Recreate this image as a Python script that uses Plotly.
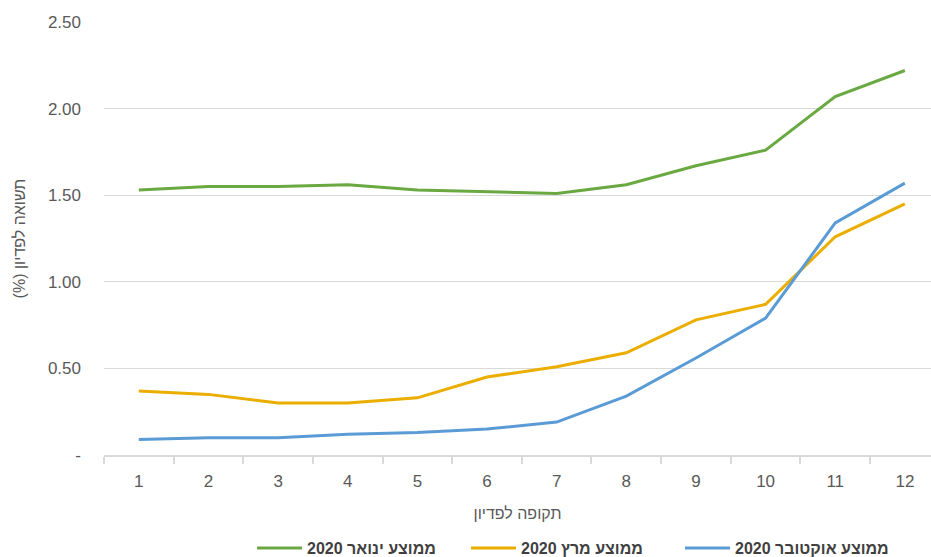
import plotly.graph_objects as go

# Redemption period (years) and yield-to-maturity averages, in percent
periods = ["1", "2", "3", "4", "5", "6", "7", "8", "9", "10", "11", "12"]
jan_2020 = [1.53, 1.55, 1.55, 1.56, 1.53, 1.52, 1.51, 1.56, 1.67, 1.76, 2.07, 2.22]
mar_2020 = [0.37, 0.35, 0.30, 0.30, 0.33, 0.45, 0.51, 0.59, 0.78, 0.87, 1.26, 1.45]
oct_2020 = [0.09, 0.10, 0.10, 0.12, 0.13, 0.15, 0.19, 0.34, 0.56, 0.79, 1.34, 1.57]

series_names = ["ממוצע ינואר 2020", "ממוצע מרץ 2020", "ממוצע אוקטובר 2020"]
series_colors = ["#6AA842", "#EBAE00", "#5B9BD5"]

y_ticks = [0, 0.5, 1.0, 1.5, 2.0, 2.5]
y_ticktext = ["-" if v == 0 else f"{v:.2f}" for v in y_ticks]

x_title = "תקופה לפדיון"
y_title = "תשואה לפדיון (%)"

RLM = "\u200f"  # keeps right-to-left ordering inside the SVG text
FONT = "Liberation Sans, DejaVu Sans, sans-serif"
GRID = "#D9D9D9"
TEXT = "#595959"

fig = go.Figure()
for name, vals, color in zip(series_names, [jan_2020, mar_2020, oct_2020], series_colors):
    fig.add_trace(go.Scatter(
        x=periods, y=vals, mode="lines", name=RLM + name + RLM,
        line=dict(color=color, width=3),
    ))

fig.update_layout(
    width=931, height=557,
    margin=dict(l=104, r=0, t=22, b=102, autoexpand=False),
    paper_bgcolor="white", plot_bgcolor="white",
    font=dict(family=FONT, size=17, color=TEXT),
    showlegend=True,
    legend=dict(
        orientation="h", x=0.179, xanchor="left", y=-0.2148, yanchor="middle",
        entrywidth=154, entrywidthmode="pixels", itemwidth=45,
        font=dict(size=16, color="#404040", weight="bold"),
        traceorder="normal", tracegroupgap=0,
    ),
    xaxis=dict(
        type="category", range=[-0.5, 11.375],
        showgrid=False, showline=True, linecolor=GRID, linewidth=1.5,
        ticks="outside", tickson="boundaries", ticklen=7, tickcolor=GRID, tickwidth=1.5,
        ticklabelstandoff=10, automargin=False,
        title=dict(text=RLM + x_title + RLM, standoff=18, font=dict(size=16, color=TEXT)),
        tickfont=dict(size=17, color=TEXT),
    ),
    yaxis=dict(
        range=[0, 2.5], tickvals=y_ticks, ticktext=y_ticktext,
        showgrid=True, gridcolor=GRID, gridwidth=1.3,
        zeroline=False, showline=False, ticks="",
        ticklabelstandoff=22, automargin=False,
        title=dict(text=RLM + y_title + RLM, standoff=18, font=dict(size=16, color=TEXT)),
        tickfont=dict(size=17, color=TEXT),
    ),
)

fig.write_html("out.html")
